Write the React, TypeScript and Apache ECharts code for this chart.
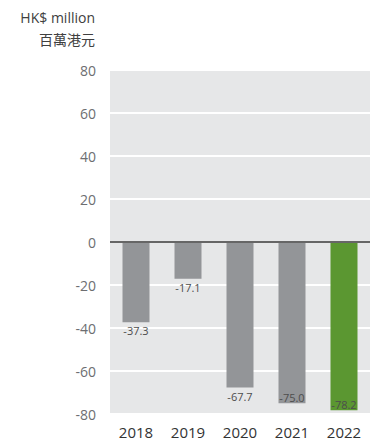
import React, { useEffect, useRef } from "react";
import * as echarts from "echarts";

const categories = ["2018", "2019", "2020", "2021", "2022"];
const values = [-37.3, -17.1, -67.7, -75.0, -78.2];
const highlightIndex = 4;
const yTicks = { min: -80, max: 80, interval: 20 };
const unitLines = ["HK$ million", "百萬港元"];

const FONT = "'Open Sans', 'Noto Sans CJK TC', sans-serif";

export default function App() {
  const ref = useRef<HTMLDivElement>(null);
  useEffect(() => {
    if (!ref.current) return;
    const chart = echarts.init(ref.current, null, { renderer: "svg" });
    const data = values.map((v, i) => ({
      value: v,
      itemStyle: { color: i === highlightIndex ? "#5b9731" : "#939598" },
      label: {
        position: v < -70 ? "insideBottom" : "bottom",
        distance: v < -70 ? 0 : 3,
      },
    }));
    chart.setOption({
      animation: false,
      textStyle: { fontFamily: FONT },
      graphic: [
        {
          type: "text",
          x: 95,
          y: 6,
          style: {
            text: unitLines.join("\n"),
            textAlign: "right",
            font: `14px ${FONT}`,
            lineHeight: 22,
            fill: "#404040",
          },
        },
      ],
      grid: {
        left: 110,
        width: 265,
        top: 70,
        height: 344,
        show: true,
        backgroundColor: "#e6e7e8",
        borderWidth: 0,
      },
      xAxis: {
        type: "category",
        data: categories,
        axisLine: { show: false },
        axisTick: { show: false },
        axisLabel: { fontSize: 15, color: "#333333", margin: 10, fontFamily: FONT },
        splitLine: { show: false },
      },
      yAxis: {
        type: "value",
        min: yTicks.min,
        max: yTicks.max,
        interval: yTicks.interval,
        axisLine: { show: false },
        axisTick: { show: false },
        axisLabel: { fontSize: 14, color: "#6d6e71", margin: 14, fontFamily: FONT },
        splitLine: { show: true, lineStyle: { color: "#ffffff", width: 2 } },
      },
      series: [
        {
          type: "bar",
          data,
          barWidth: 27,
          label: {
            show: true,
            fontSize: 11,
            color: "#4d4d4d",
            fontFamily: FONT,
            formatter: (p: any) => Number(p.value).toFixed(1),
          },
          markLine: {
            silent: true,
            symbol: "none",
            label: { show: false },
            lineStyle: { color: "#666666", width: 2, type: "solid" },
            data: [{ yAxis: 0 }],
          },
        },
      ],
    });
    return () => chart.dispose();
  }, []);
  return <div ref={ref} style={{ width: 370, height: 443, position: "absolute", left: 0, top: 0 }} />;
}
